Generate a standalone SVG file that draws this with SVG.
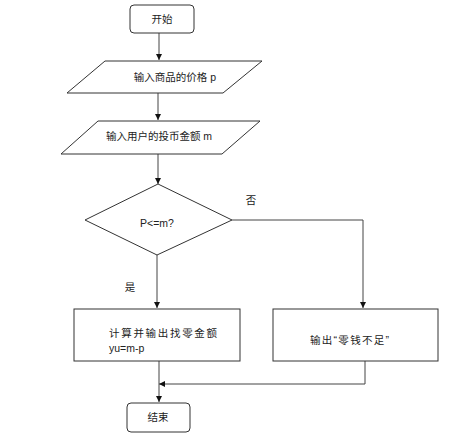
<svg xmlns="http://www.w3.org/2000/svg" width="453" height="446" viewBox="0 0 453 446">
<style>
.s{fill:#fff;stroke:#333;stroke-width:1}
.t{font-family:"Liberation Sans","Noto Sans CJK SC",sans-serif;font-size:10.5px;fill:#222}
.c{text-anchor:middle}
.l{fill:none;stroke:#444;stroke-width:1}
</style>
<defs>
<marker id="a" markerWidth="6" markerHeight="6" refX="6" refY="3" orient="auto" markerUnits="userSpaceOnUse">
<path d="M0,0 L6,3 L0,6 Z" fill="#111"/>
</marker>
</defs>
<rect width="453" height="446" fill="#fff"/>
<g id="connectors">
<line class="l" x1="159" y1="33" x2="159" y2="60" marker-end="url(#a)"/>
<line class="l" x1="158" y1="93" x2="158" y2="120" marker-end="url(#a)"/>
<line class="l" x1="158" y1="154" x2="158" y2="184" marker-end="url(#a)"/>
<line class="l" x1="157" y1="255" x2="157" y2="308" marker-end="url(#a)"/>
<polyline class="l" points="232,220 363,220 363,308" marker-end="url(#a)"/>
<polyline class="l" points="365,361 365,384 159,384" marker-end="url(#a)"/>
<line class="l" x1="159" y1="361" x2="159" y2="402" marker-end="url(#a)"/>
<text class="t c" x="251" y="204">否</text>
<text class="t c" x="130" y="291">是</text>
</g>
<g id="start">
<rect class="s" x="130" y="5" width="64" height="28" rx="4"/>
<text class="t c" x="162" y="23">开始</text>
</g>
<g id="input1">
<polygon class="s" points="105,61 262,61 223,93 67,93"/>
<text class="t c" x="175" y="81">输入商品的价格 p</text>
</g>
<g id="input2">
<polygon class="s" points="98,121 260,121 222,154 61,154"/>
<text class="t c" x="159" y="140">输入用户的投币金额 m</text>
</g>
<g id="decision">
<polygon class="s" points="158,184 232,220 157,255 85,220"/>
<text class="t c" x="157" y="227">P&lt;=m?</text>
</g>
<g id="compute">
<rect class="s" x="74" y="309" width="166" height="52"/>
<text class="t" x="109" y="337" textLength="108">计算并输出找零金额</text>
<text class="t" x="109" y="352">yu=m-p</text>
</g>
<g id="insufficient">
<rect class="s" x="273" y="309" width="165" height="52"/>
<text class="t" x="310" y="344" textLength="79">输出“零钱不足”</text>
</g>
<g id="end">
<rect class="s" x="127" y="403" width="63" height="29" rx="4"/>
<text class="t c" x="158" y="421">结束</text>
</g>
</svg>
